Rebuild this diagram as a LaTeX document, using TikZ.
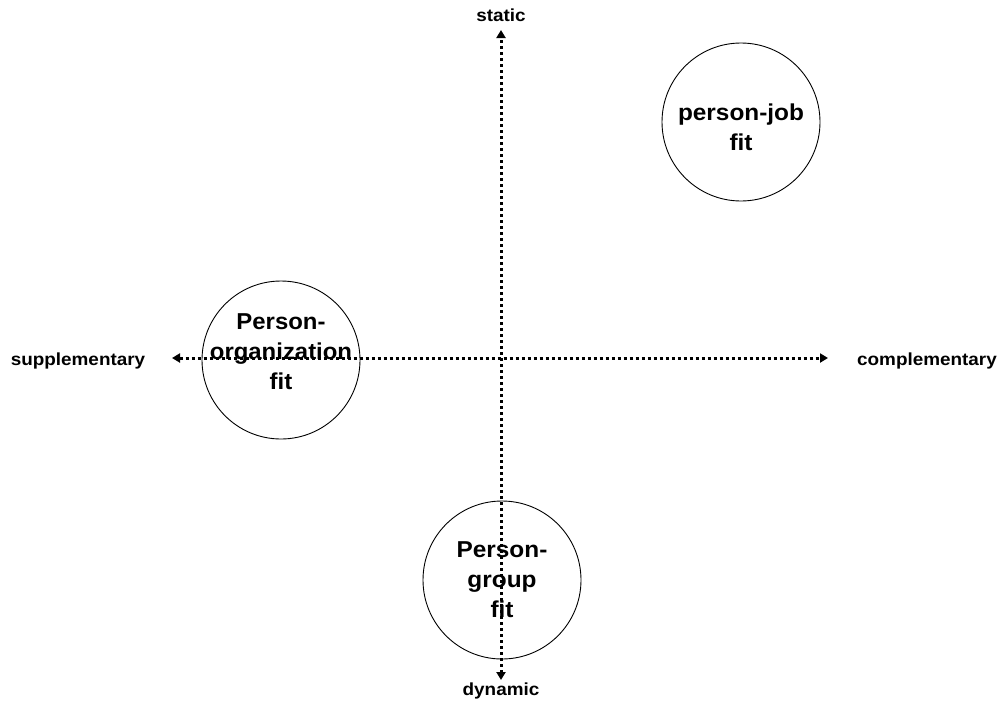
\documentclass[tikz,border=0pt]{standalone}
\usepackage{fontspec}
\setmainfont{Liberation Sans}
\usetikzlibrary{arrows.meta}
\newcommand{\widetext}[2]{\scalebox{#1}[1]{#2}}
\begin{document}
\begin{tikzpicture}[x=1pt,y=-1pt,
  fitcircle/.style={circle,draw=black,line width=0.9pt,minimum size=158pt,inner sep=0pt},
  fittext/.style={align=center,inner sep=0pt,font=\bfseries\fontsize{23}{30}\selectfont},
  axislabel/.style={font=\bfseries\fontsize{17.5}{20}\selectfont,inner sep=0pt},
  axis/.style={line width=3pt,dash pattern=on 3pt off 3pt,
    {Triangle[length=8pt,width=9pt]}-{Triangle[length=8pt,width=9pt]}}]
\useasboundingbox (0,0) rectangle (1001,702);

% the three fit circles and their captions
\node[fitcircle] (pj) at (741,122) {};
\node[fitcircle] (po) at (281,360) {};
\node[fitcircle] (pg) at (502,580) {};
\node[fittext] (pjt) at (741,127) {\widetext{1.06}{person-job}\\\widetext{1.06}{fit}};
\node[fittext] (pot) at (281,352) {\widetext{1.04}{Person-}\\\widetext{1.04}{organization}\\\widetext{1.04}{fit}};
\node[fittext] (pgt) at (502,580) {\widetext{1.06}{Person-}\\\widetext{1.06}{group}\\\widetext{1.06}{fit}};

% axis labels
\node[axislabel] (st) at (501,15) {\widetext{1.08}{static}};
\node[axislabel] (dy) at (501,691) {\widetext{1.08}{dynamic}};
\node[axislabel] (su) at (78,361) {\widetext{1.08}{supplementary}};
\node[axislabel] (co) at (927,361) {\widetext{1.08}{complementary}};

% axis ends
\coordinate (top) at (501,30);
\coordinate (bot) at (501,680);
\coordinate (lft) at (172,358);
\coordinate (rgt) at (828,358);

\draw[axis] (bot) -- (top);
\draw[axis] (lft) -- (rgt);
\end{tikzpicture}
\end{document}
